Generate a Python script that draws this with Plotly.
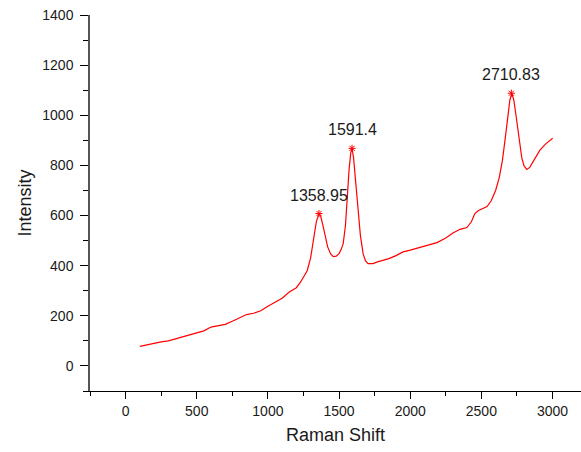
import plotly.graph_objects as go

raman_shift = [100, 130, 160, 200, 250, 300, 350, 400, 450, 500, 550, 600, 650, 700, 750, 800, 850, 900, 950,
               1000, 1050, 1100, 1150, 1200, 1230, 1255, 1276, 1300, 1320, 1340, 1359, 1372, 1385, 1400, 1420,
               1440, 1459, 1480, 1500, 1515, 1529, 1545, 1556, 1570, 1582, 1591, 1602, 1618, 1634, 1650, 1669,
               1685, 1704, 1739, 1770, 1800, 1850, 1900, 1950, 2000, 2050, 2100, 2150, 2188, 2250, 2300, 2350,
               2398, 2430, 2454, 2480, 2510, 2540, 2570, 2600, 2625, 2648, 2668, 2685, 2700, 2714, 2728, 2742,
               2756, 2770, 2784, 2800, 2819, 2840, 2870, 2910, 2950, 2980, 3001]
intensity = [78, 82, 86, 90, 96, 100, 108, 116, 122, 130, 140, 155, 160, 166, 178, 190, 205, 210, 220,
             238, 255, 270, 295, 312, 335, 360, 380, 430, 500, 575, 608, 595, 565, 520, 475,
             448, 436, 438, 448, 465, 488, 560, 672, 780, 850, 868, 830, 720, 608, 520, 448,
             420, 408, 408, 415, 420, 428, 440, 455, 462, 470, 478, 488, 492, 510, 530, 545,
             552, 575, 608, 620, 628, 636, 660, 700, 750, 820, 910, 1000, 1060, 1088, 1060, 1005,
             945, 885, 830, 798, 784, 792, 820, 860, 885, 898, 908]

peak_x = [1358.95, 1591.4, 2710.83]
peak_y = [608, 868, 1088]
peak_labels = ["1358.95", "1591.4", "2710.83"]

x_ticks = [0, 500, 1000, 1500, 2000, 2500, 3000]
y_ticks = [0, 200, 400, 600, 800, 1000, 1200, 1400]

FONT = "Liberation Sans, Arial, sans-serif"

fig = go.Figure()
fig.add_trace(go.Scatter(x=raman_shift, y=intensity, mode="lines",
                         line=dict(color="#ff0000", width=1.2), showlegend=False))
fig.add_trace(go.Scatter(x=peak_x, y=peak_y, mode="markers",
                         marker=dict(symbol="asterisk", size=6, color="#ff0000",
                                     line=dict(color="#ff0000", width=1)),
                         showlegend=False))

for px, py, lab in zip(peak_x, peak_y, peak_labels):
    fig.add_annotation(x=px, y=py, text=lab, showarrow=False, yanchor="bottom",
                       yshift=8, font=dict(family=FONT, size=16, color="#1a1a1a"))

fig.update_layout(
    width=581, height=452,
    margin=dict(l=90, r=0, t=15, b=61),
    paper_bgcolor="white", plot_bgcolor="white",
    font=dict(family=FONT, color="#1a1a1a"),
    xaxis=dict(range=[-250, 3200], tickvals=x_ticks, ticks="outside", ticklen=7, tickwidth=1,
               tickcolor="black", showline=True, linecolor="black", linewidth=1.2,
               showgrid=False, zeroline=False, tickfont=dict(size=14, family=FONT),
               minor=dict(dtick=250, tick0=-250, ticks="outside", ticklen=4, tickcolor="black"),
               title=dict(text="Raman Shift", font=dict(size=18, family=FONT), standoff=10)),
    yaxis=dict(range=[-100, 1400], tickvals=y_ticks, ticks="outside", ticklen=8, tickwidth=1,
               tickcolor="black", showline=True, linecolor="#555555", linewidth=1.5,
               showgrid=False, zeroline=False, tickfont=dict(size=14, family=FONT),
               ticklabelstandoff=4,
               minor=dict(dtick=100, tick0=-100, ticks="outside", ticklen=5, tickcolor="black"),
               title=dict(text="Intensity", font=dict(size=18, family=FONT), standoff=6)),
)

fig.write_html("out.html")
